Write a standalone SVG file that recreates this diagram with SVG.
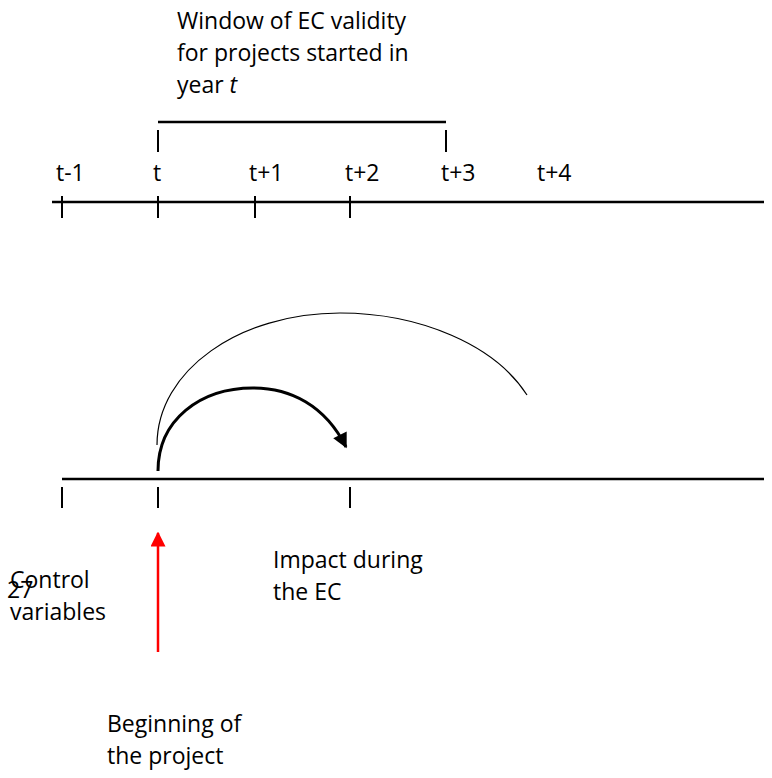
<svg xmlns="http://www.w3.org/2000/svg" width="772" height="778" viewBox="0 0 772 778">
<defs>
<style>
text{font-family:"Open Sans","Liberation Sans",sans-serif;font-size:23px;fill:#000}
.ln{stroke:#000;stroke-width:2.5;fill:none}
.tk{stroke:#000;stroke-width:2;fill:none}
</style>
<marker id="ah" viewBox="0 0 10 10" refX="9" refY="5" markerWidth="5.5" markerHeight="5" markerUnits="strokeWidth" orient="auto">
<path d="M0,0 L10,5 L0,10 z" fill="#000"/>
</marker>
<marker id="ahr" viewBox="0 0 10 10" refX="9" refY="5" markerWidth="6" markerHeight="6" markerUnits="strokeWidth" orient="auto">
<path d="M0,0 L10,5 L0,10 z" fill="#ff0000"/>
</marker>
</defs>
<rect width="772" height="778" fill="#fff"/>
<g id="window-label">
<text x="177" y="29">Window of EC validity</text>
<text x="177" y="61">for projects started in</text>
<text x="177" y="93">year <tspan font-style="italic">t</tspan></text>
</g>
<g id="window-bracket">
<line class="ln" x1="158" y1="122" x2="446" y2="122"/>
<line class="tk" x1="158" y1="130" x2="158" y2="152"/>
<line class="tk" x1="446" y1="130" x2="446" y2="152"/>
</g>
<g id="top-timeline">
<line class="ln" x1="52" y1="202" x2="764" y2="202"/>
<line class="tk" x1="62" y1="196" x2="62" y2="218"/>
<line class="tk" x1="158" y1="196" x2="158" y2="218"/>
<line class="tk" x1="255" y1="196" x2="255" y2="218"/>
<line class="tk" x1="350" y1="196" x2="350" y2="218"/>
<text x="56" y="181">t-1</text>
<text x="153" y="181">t</text>
<text x="249" y="181">t+1</text>
<text x="345" y="181">t+2</text>
<text x="441" y="181">t+3</text>
<text x="537" y="181">t+4</text>
</g>
<g id="bottom-timeline">
<line class="ln" x1="62" y1="479" x2="764" y2="479"/>
<line class="tk" x1="62" y1="487" x2="62" y2="508"/>
<line class="tk" x1="158" y1="487" x2="158" y2="508"/>
<line class="tk" x1="350" y1="487" x2="350" y2="508"/>
</g>
<g id="connectors">
<path d="M157,445 C157,370 240,313 340,313 C420,313 495,345 527,395" fill="none" stroke="#000" stroke-width="1.2"/>
<path d="M158,471 C158,420 200,388 253,388 C290,388 325,405 346,447" fill="none" stroke="#000" stroke-width="3" marker-end="url(#ah)"/>
<line x1="158" y1="652" x2="158" y2="533" stroke="#ff0000" stroke-width="2.5" marker-end="url(#ahr)"/>
</g>
<g id="impact-label">
<text x="273" y="568">Impact during</text>
<text x="273" y="600">the EC</text>
</g>
<g id="control-label">
<text x="10" y="588">Control</text>
<text x="10" y="620">variables</text>
<text x="7" y="598">27</text>
</g>
<g id="beginning-label">
<text x="107" y="732">Beginning of</text>
<text x="107" y="764">the project</text>
</g>
</svg>
